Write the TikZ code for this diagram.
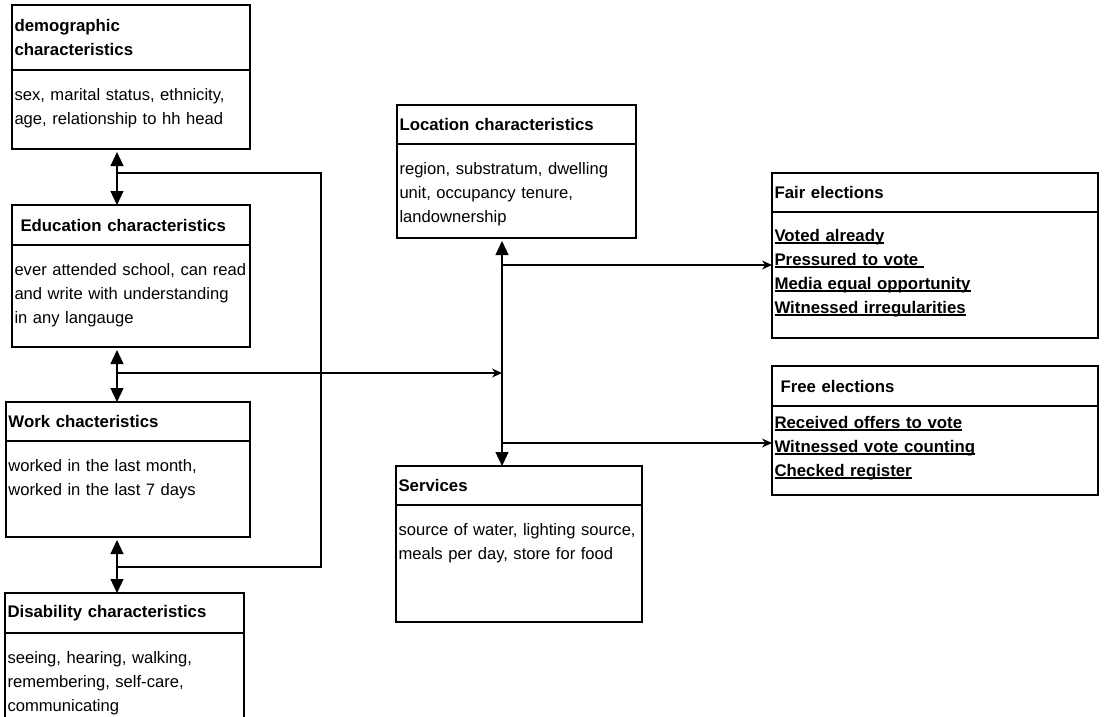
\documentclass[tikz,border=0pt]{standalone}
\usepackage{fontspec}
\setmainfont{Liberation Sans}
\usetikzlibrary{positioning, arrows.meta}

\newcommand\goalline[1]{\leavevmode\setbox0\hbox{#1}\rlap{\rule[-2.5pt]{\wd0}{1.1pt}}\box0}

\tikzset{
  head/.style={draw, anchor=north west, outer sep=0pt, align=left, inner xsep=2.5pt, inner ysep=0pt,
    font=\fontsize{16.8}{24}\selectfont\bfseries},
  body/.style={draw, anchor=north west, outer sep=0pt, align=left, inner xsep=2.5pt, inner ysep=0pt,
    text height=30pt, font=\fontsize{16.6}{24}\selectfont},
  goal/.style={body, font=\fontsize{16.8}{24}\selectfont\bfseries},
  tri/.tip={Triangle[length=14pt, width=13pt]},
}

\begin{document}
\begin{tikzpicture}[x=1pt, y=-1pt, line width=1.2pt, >={Stealth[length=10pt, width=9pt]}]
  \useasboundingbox (0,0) rectangle (1105,716);

  % left column
  \node[head, text width=233pt, minimum height=65pt] (demoH) at (12,5) {demographic\\characteristics};
  \node[body, text width=233pt, text depth=49pt] (demoB) at (demoH.south west) {sex, marital status, ethnicity,\\age, relationship to hh head};

  \node[head, text width=233pt, minimum height=40pt] (eduH) at (12,205) {\hspace*{6pt}Education characteristics};
  \node[body, text width=233pt, text depth=72pt] (eduB) at (eduH.south west) {ever attended school, can read\\and write with understanding\\in any langauge};

  \node[head, text width=239pt, minimum height=39pt] (workH) at (6,402) {Work chacteristics};
  \node[body, text width=239pt, text depth=66pt] (workB) at (workH.south west) {worked in the last month,\\worked in the last 7 days};

  \node[head, text width=234pt, minimum height=40pt] (disH) at (5,593) {Disability characteristics};
  \node[body, text width=234pt, text depth=100pt] (disB) at (disH.south west) {seeing, hearing, walking,\\remembering, self-care,\\communicating};

  % middle column
  \node[head, text width=234pt, minimum height=39pt] (locH) at (397,105) {Location characteristics};
  \node[body, text width=234pt, text depth=64pt] (locB) at (locH.south west) {region, substratum, dwelling\\unit, occupancy tenure,\\landownership};

  \node[head, text width=241pt, minimum height=39pt] (servH) at (396,466) {Services};
  \node[body, text width=241pt, text depth=87pt] (servB) at (servH.south west) {source of water, lighting source,\\meals per day, store for food};

  % outcomes
  \node[head, text width=321pt, minimum height=39pt] (fairH) at (772,173) {Fair elections};
  \node[goal, text width=321pt, text height=29pt, text depth=97pt] (fairB) at (fairH.south west) {\goalline{Voted already}\\\goalline{Pressured to vote }\\\goalline{Media equal opportunity}\\\goalline{Witnessed irregularities}};

  \node[head, text width=321pt, minimum height=40pt] (freeH) at (772,366) {\hspace*{6pt}Free elections};
  \node[goal, text width=321pt, text height=22pt, text depth=67pt] (freeB) at (freeH.south west) {\goalline{Received offers to vote}\\\goalline{Witnessed vote counting}\\\goalline{Checked register}};

  % joins
  \coordinate (demoJoin) at (117,173);
  \coordinate (eduJoin) at (117,373);
  \coordinate (workJoin) at (117,567);
  \coordinate (topCorner) at (321,173);
  \coordinate (botCorner) at (321,567);
  \coordinate (midJoin) at (502,373);
  \coordinate (fairJoin) at (502,265);
  \coordinate (freeJoin) at (502,443);

  \draw[tri-tri, shorten <=3pt] (demoB.south -| demoJoin) -- (eduH.north -| demoJoin);
  \draw[tri-tri, shorten <=3pt] (eduB.south -| eduJoin) -- (workH.north -| eduJoin);
  \draw[tri-tri, shorten <=3pt] (workB.south -| workJoin) -- (disH.north -| workJoin);
  \draw (demoJoin) -- (topCorner) -- (botCorner) -- (workJoin);
  \draw[->] (eduJoin) -- (midJoin);

  \draw[tri-tri, shorten <=3pt] (locB.south -| midJoin) -- (servH.north -| midJoin);
  \draw[->] (fairJoin) -- (fairB.west |- fairJoin);
  \draw[->] (freeJoin) -- (freeB.west |- freeJoin);

\end{tikzpicture}
\end{document}
